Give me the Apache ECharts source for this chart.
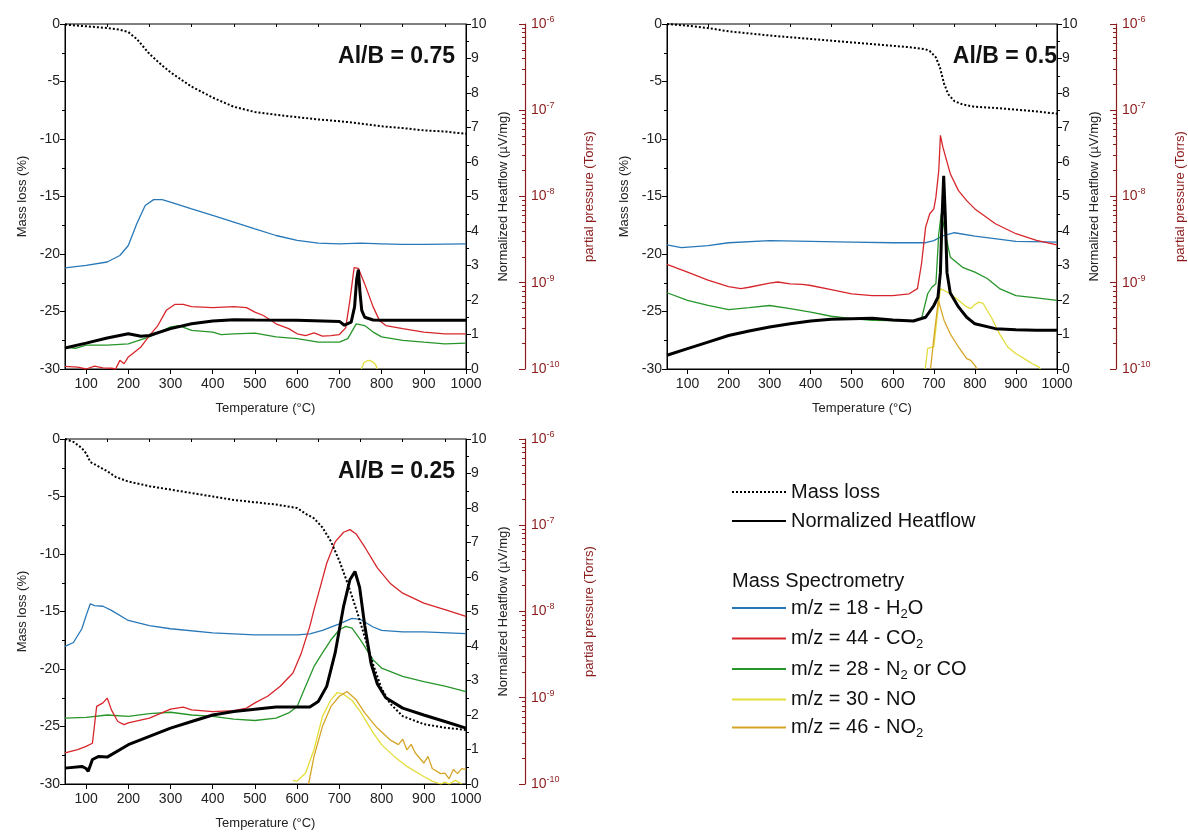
<!DOCTYPE html>
<html><head><meta charset="utf-8">
<script src="https://cdn.jsdelivr.net/npm/echarts@6/dist/echarts.min.js"></script>
<style>html,body{margin:0;padding:0;background:#fff}#c{width:1188px;height:834px}</style>
</head><body><div id="c"></div>
<script>
// ---------- tick labels / categories ----------
const xTickValues = [100,200,300,400,500,600,700,800,900,1000];
const xMinorTickValues = [150,250,350,450,550,650,750,850,950];
const logMinorTickValues = [2e-10,3e-10,4e-10,5e-10,6e-10,7e-10,8e-10,9e-10,2e-9,3e-9,4e-9,5e-9,6e-9,7e-9,8e-9,9e-9,2e-8,3e-8,4e-8,5e-8,6e-8,7e-8,8e-8,9e-8,2e-7,3e-7,4e-7,5e-7,6e-7,7e-7,8e-7,9e-7];
const panelLabels = ['Al/B = 0.75','Al/B = 0.5','Al/B = 0.25'];
const seriesNames = ['Mass loss','Normalized Heatflow','m/z = 18 - H2O','m/z = 44 - CO2','m/z = 28 - N2 or CO','m/z = 30 - NO','m/z = 46 - NO2'];

// ---------- Panel Al/B = 0.75 ----------
const mass75 = [[50,-0.05],[100,-0.2],[150,-0.35],[180,-0.5],[200,-0.7],[220,-1.3],[250,-2.6],[280,-3.6],[300,-4.2],[350,-5.45],[400,-6.4],[450,-7.2],[500,-7.65],[550,-7.9],[600,-8.1],[650,-8.3],[700,-8.45],[750,-8.65],[800,-8.9],[850,-9.05],[900,-9.25],[950,-9.35],[1000,-9.55]];
const heat75 = [[50,0.61],[100,0.75],[150,0.9],[200,1.02],[230,0.95],[250,0.97],[300,1.17],[350,1.31],[400,1.39],[450,1.43],[500,1.42],[600,1.41],[700,1.38],[712,1.27],[728,1.36],[736,1.8],[741,2.6],[745,2.88],[749,2.2],[753,1.7],[760,1.5],[780,1.42],[800,1.41],[900,1.41],[1000,1.41]];
const h2o75 = [[50,1.49e-9],[100,1.59e-9],[150,1.74e-9],[180,2.07e-9],[200,2.70e-9],[220,4.83e-9],[240,7.87e-9],[260,9.2e-9],[280,9.2e-9],[300,8.63e-9],[350,7.18e-9],[400,6.03e-9],[450,5.06e-9],[500,4.21e-9],[550,3.53e-9],[600,3.10e-9],[650,2.88e-9],[700,2.83e-9],[750,2.88e-9],[800,2.83e-9],[850,2.78e-9],[900,2.78e-9],[1000,2.83e-9]];
const co275 = [[50,1.07e-10],[80,1.05e-10],[100,1.0e-10],[120,1.08e-10],[140,1.03e-10],[160,1.02e-10],[170,1.0e-10],[180,1.26e-10],[190,1.15e-10],[200,1.38e-10],[230,1.8e-10],[250,2.44e-10],[270,3.19e-10],[290,4.79e-10],[310,5.6e-10],[330,5.6e-10],[350,5.3e-10],[400,5.15e-10],[450,5.3e-10],[480,5.15e-10],[500,4.57e-10],[520,4.17e-10],[550,3.34e-10],[580,2.94e-10],[600,2.56e-10],[620,2.44e-10],[640,2.63e-10],[660,2.4e-10],[680,2.44e-10],[700,2.51e-10],[715,3.0e-10],[725,6.3e-10],[735,1.5e-9],[745,1.47e-9],[760,9.7e-10],[780,5.25e-10],[795,3.66e-10],[810,3.19e-10],[850,2.94e-10],[900,2.68e-10],[950,2.56e-10],[1000,2.56e-10]];
const n275 = [[50,1.8e-10],[75,1.74e-10],[100,1.89e-10],[150,1.89e-10],[200,1.96e-10],[250,2.36e-10],[300,3.08e-10],[320,3.19e-10],[350,2.81e-10],[400,2.68e-10],[420,2.51e-10],[450,2.56e-10],[500,2.61e-10],[550,2.36e-10],[600,2.25e-10],[650,2.05e-10],[700,2.05e-10],[720,2.25e-10],[740,3.34e-10],[760,3.19e-10],[780,2.68e-10],[800,2.36e-10],[850,2.15e-10],[900,2.05e-10],[950,1.96e-10],[1000,2.0e-10]];
const no75 = [[752,1.0e-10],[758,1.18e-10],[765,1.24e-10],[772,1.26e-10],[780,1.2e-10],[786,1.12e-10],[790,1.0e-10]];
const no275 = [];

// ---------- Panel Al/B = 0.5 ----------
const mass50 = [[50,0],[100,-0.15],[150,-0.35],[200,-0.64],[300,-1.0],[400,-1.3],[500,-1.6],[600,-1.9],[650,-2.05],[680,-2.2],[690,-2.35],[705,-2.9],[715,-3.8],[725,-5.2],[735,-6.1],[750,-6.7],[770,-7.0],[800,-7.2],[850,-7.3],[900,-7.45],[950,-7.6],[1000,-7.8]];
const heat50 = [[50,0.4],[100,0.59],[150,0.78],[200,0.97],[250,1.1],[300,1.22],[350,1.31],[400,1.39],[450,1.44],[500,1.46],[550,1.47],[600,1.42],[650,1.39],[680,1.5],[700,1.84],[710,2.08],[716,2.8],[720,4.4],[724,5.6],[728,4.4],[732,2.8],[740,2.2],[760,1.8],[780,1.5],[800,1.31],[850,1.17],[900,1.14],[950,1.12],[1000,1.12]];
const h2o50 = [[50,2.75e-9],[85,2.56e-9],[150,2.70e-9],[200,2.91e-9],[300,3.08e-9],[400,3.02e-9],[500,2.96e-9],[600,2.91e-9],[680,2.91e-9],[700,3.08e-9],[720,3.47e-9],[750,3.80e-9],[800,3.47e-9],[900,3.02e-9],[1000,2.96e-9]];
const co250 = [[50,1.63e-9],[100,1.33e-9],[150,1.07e-9],[200,9.04e-10],[230,8.55e-10],[250,8.87e-10],[300,9.91e-10],[320,1.02e-9],[350,9.73e-10],[380,9.55e-10],[400,9.29e-10],[450,8.32e-10],[500,7.45e-10],[550,7.11e-10],[600,7.11e-10],[640,7.45e-10],[660,8.55e-10],[670,1.66e-9],[680,4.41e-9],[690,6.31e-9],[700,7.18e-9],[705,9.82e-9],[712,2.0e-8],[716,5.12e-8],[722,3.73e-8],[740,1.84e-8],[760,1.17e-8],[780,8.95e-9],[800,7.18e-9],[850,4.83e-9],[900,3.70e-9],[950,3.10e-9],[1000,2.75e-9]];
const n250 = [[50,7.66e-10],[100,6.25e-10],[150,5.45e-10],[200,4.88e-10],[250,5.15e-10],[300,5.45e-10],[350,5.01e-10],[400,4.57e-10],[450,4.09e-10],[500,3.84e-10],[550,3.66e-10],[600,3.63e-10],[650,3.6e-10],[670,3.84e-10],[685,7.45e-10],[695,8.87e-10],[705,9.73e-10],[712,3.7e-9],[718,6.31e-9],[725,4.41e-9],[740,1.98e-9],[770,1.51e-9],[800,1.33e-9],[830,1.12e-9],[860,8.55e-10],[900,7.11e-10],[950,6.67e-10],[1000,6.25e-10]];
const no50 = [[679,1.0e-10],[685,1.74e-10],[700,1.82e-10],[708,3.98e-10],[716,8.55e-10],[740,7.45e-10],[760,6.25e-10],[780,5.25e-10],[790,5.01e-10],[800,5.6e-10],[810,5.97e-10],[820,5.75e-10],[840,3.98e-10],[860,2.56e-10],[880,1.8e-10],[900,1.5e-10],[920,1.32e-10],[940,1.15e-10],[955,1.06e-10],[960,1.0e-10]];
const no250 = [[692,1.0e-10],[700,2.29e-10],[706,3.98e-10],[711,6.25e-10],[725,3.66e-10],[740,2.56e-10],[760,1.8e-10],[780,1.32e-10],[790,1.26e-10],[800,1.1e-10],[805,1.0e-10]];

// ---------- Panel Al/B = 0.25 ----------
const mass25 = [[50,0],[70,-0.25],[90,-0.8],[100,-1.25],[110,-2.0],[130,-2.4],[150,-2.8],[170,-3.3],[200,-3.7],[250,-4.1],[300,-4.4],[350,-4.7],[400,-5.0],[450,-5.3],[500,-5.5],[550,-5.7],[600,-6.0],[620,-6.5],[640,-6.9],[660,-7.7],[680,-8.9],[700,-10.6],[720,-12.6],[740,-14.8],[760,-17.2],[780,-19.6],[800,-21.7],[820,-23.0],[850,-24.1],[900,-24.8],[950,-25.1],[1000,-25.3]];
const heat25 = [[50,0.46],[90,0.51],[100,0.45],[105,0.37],[115,0.71],[130,0.8],[150,0.78],[200,1.14],[250,1.38],[300,1.62],[350,1.81],[400,2.0],[450,2.1],[500,2.17],[550,2.23],[600,2.23],[630,2.23],[650,2.39],[670,2.83],[690,3.8],[710,5.15],[725,5.92],[737,6.16],[748,5.7],[760,4.6],[775,3.5],[790,2.9],[810,2.5],[850,2.2],[900,2.0],[950,1.81],[1000,1.62]];
const h2o25 = [[50,3.95e-9],[70,4.37e-9],[90,6.31e-9],[100,8.95e-9],[110,1.23e-8],[120,1.17e-8],[140,1.15e-8],[160,1.03e-8],[200,7.87e-9],[250,6.86e-9],[300,6.31e-9],[400,5.65e-9],[500,5.35e-9],[600,5.35e-9],[630,5.5e-9],[660,6.03e-9],[700,7.18e-9],[730,8.32e-9],[750,8.09e-9],[780,6.61e-9],[800,6.03e-9],[850,5.81e-9],[900,5.81e-9],[1000,5.55e-9]];
const co225 = [[50,2.29e-10],[80,2.51e-10],[100,2.73e-10],[115,2.97e-10],[125,7.94e-10],[140,8.71e-10],[150,9.91e-10],[160,7.24e-10],[175,5.3e-10],[190,4.88e-10],[200,5.11e-10],[250,5.81e-10],[300,7.38e-10],[330,7.8e-10],[350,7.24e-10],[400,6.92e-10],[450,7.11e-10],[480,7.59e-10],[500,8.71e-10],[530,1.04e-9],[560,1.36e-9],[590,1.94e-9],[610,3.31e-9],[630,6.73e-9],[640,1.05e-8],[655,1.94e-8],[670,3.63e-8],[690,6.41e-8],[710,8.3e-8],[725,8.9e-8],[740,7.9e-8],[760,5.6e-8],[790,3.2e-8],[820,2.13e-8],[850,1.63e-8],[900,1.25e-8],[950,1.05e-8],[1000,8.79e-9]];
const n225 = [[50,5.81e-10],[100,5.92e-10],[150,6.31e-10],[200,6.08e-10],[250,6.55e-10],[300,6.79e-10],[350,6.31e-10],[400,6.08e-10],[450,5.65e-10],[500,5.45e-10],[550,5.81e-10],[580,6.67e-10],[600,7.94e-10],[620,1.36e-9],[640,2.31e-9],[660,3.31e-9],[680,4.7e-9],[700,6.14e-9],[715,6.73e-9],[730,6.43e-9],[750,4.7e-9],[780,2.75e-9],[800,2.21e-9],[850,1.77e-9],[900,1.54e-9],[950,1.36e-9],[1000,1.18e-9]];
const no25 = [[590,1.1e-10],[600,1.08e-10],[620,1.34e-10],[640,2.51e-10],[660,6.08e-10],[680,9.46e-10],[695,1.15e-9],[710,1.1e-9],[730,9.29e-10],[750,6.86e-10],[780,3.91e-10],[800,2.86e-10],[830,2.09e-10],[860,1.6e-10],[900,1.22e-10],[920,1.08e-10],[940,1.0e-10],[950,1.05e-10],[960,1.0e-10],[975,1.1e-10],[990,1.0e-10]];
const no225 = [[627,1.0e-10],[640,2.09e-10],[660,4.66e-10],[680,7.94e-10],[700,1.04e-9],[718,1.18e-9],[740,9.46e-10],[760,6.67e-10],[790,4.45e-10],[820,3.25e-10],[840,2.86e-10],[850,3.31e-10],[860,2.49e-10],[870,2.88e-10],[880,2.29e-10],[900,1.75e-10],[910,2.09e-10],[920,1.51e-10],[940,1.32e-10],[950,1.34e-10],[960,1.15e-10],[970,1.47e-10],[980,1.32e-10],[990,1.51e-10],[1000,1.47e-10]];

// ---------- styling ----------
const FONT = 'Liberation Sans, Arial, sans-serif';
const DARKRED = '#8b1c1c';
const MS_COLORS = {h2o:'#2878b8', co2:'#d7262b', n2:'#27962a', no:'#e3dd3a', no2:'#d6a526'};

const panels = [
  {grid:{left:65,top:24,width:401,height:345}, label:panelLabels[0], labelRight:733, labelTop:45,
   mass:mass75, heat:heat75, h2o:h2o75, co2:co275, n2:n275, no:no75, no2:no275},
  {grid:{left:667,top:24,width:401,height:345}, label:panelLabels[1], labelRight:131, labelTop:45,
   mass:mass50, heat:heat50, h2o:h2o50, co2:co250, n2:n250, no:no50, no2:no250},
  {grid:{left:65,top:439,width:401,height:345}, label:panelLabels[2], labelRight:733, labelTop:460,
   mass:mass25, heat:heat25, h2o:h2o25, co2:co225, n2:n225, no:no25, no2:no225}
];

const grids=[], xAxes=[], yAxes=[], series=[], titles=[];
const labelStyle = {color:'#222', fontSize:14, fontFamily:FONT};
const nameStyle = {color:'#222', fontSize:13, fontFamily:FONT};
panels.forEach((p,i)=>{
  grids.push(Object.assign({show:true, borderColor:'#000', borderWidth:1, backgroundColor:'transparent'}, p.grid));
  xAxes.push({gridIndex:i, type:'value', min:50, max:1000, name:'Temperature (°C)', nameLocation:'middle', nameGap:33,
    nameTextStyle:nameStyle,
    axisLine:{show:true, onZero:false, lineStyle:{color:'#000', width:1}},
    axisTick:{show:true, customValues:xTickValues, length:5, lineStyle:{color:'#000'}},
    axisLabel:Object.assign({show:true, customValues:xTickValues, margin:8, formatter:v=>String(v)}, labelStyle),
    splitLine:{show:false}});
  xAxes.push({gridIndex:i, type:'value', min:50, max:1000, position:'bottom',
    axisLine:{show:false}, axisLabel:{show:false},
    axisTick:{show:true, customValues:xMinorTickValues, length:3, lineStyle:{color:'#000'}},
    splitLine:{show:false}});
  yAxes.push({gridIndex:i, type:'value', position:'left', min:-30, max:0, interval:5,
    name:'Mass loss (%)', nameLocation:'middle', nameGap:36, nameRotate:90, nameTextStyle:nameStyle,
    axisLine:{show:true, onZero:false, lineStyle:{color:'#000'}},
    axisTick:{show:true, length:5, lineStyle:{color:'#000'}},
    minorTick:{show:true, splitNumber:2, length:3, lineStyle:{color:'#000'}},
    axisLabel:Object.assign({margin:5}, labelStyle), splitLine:{show:false}});
  yAxes.push({gridIndex:i, type:'value', position:'right', min:0, max:10, interval:1,
    name:'Normalized Heatflow (µV/mg)', nameLocation:'middle', nameGap:31, nameRotate:90, nameTextStyle:nameStyle,
    axisLine:{show:true, onZero:false, lineStyle:{color:'#000'}},
    axisTick:{show:true, length:5, lineStyle:{color:'#000'}},
    minorTick:{show:true, splitNumber:2, length:3, lineStyle:{color:'#000'}},
    axisLabel:Object.assign({margin:5}, labelStyle), splitLine:{show:false}});
  yAxes.push({gridIndex:i, type:'log', logBase:10, position:'right', offset:59, min:1e-10, max:1e-6,
    name:'partial pressure (Torrs)', nameLocation:'middle', nameGap:58, nameRotate:90,
    nameTextStyle:{color:DARKRED, fontSize:13, fontFamily:FONT},
    axisLine:{show:true, onZero:false, lineStyle:{color:DARKRED, width:1.2}},
    axisTick:{show:true, inside:true, length:6, lineStyle:{color:DARKRED}},
    minorTick:{show:false},
    axisLabel:{margin:6, color:DARKRED, fontSize:14, fontFamily:FONT,
      formatter:function(v){return '10{sup|'+Math.round(Math.log10(v))+'}';},
      rich:{sup:{fontSize:9, color:DARKRED, fontFamily:FONT, padding:[0,0,9,0]}}},
    splitLine:{show:false}});
  yAxes.push({gridIndex:i, type:'log', logBase:10, position:'right', offset:59, min:1e-10, max:1e-6,
    axisLine:{show:false}, axisLabel:{show:false},
    axisTick:{show:true, inside:true, length:3, customValues:logMinorTickValues, lineStyle:{color:DARKRED}},
    splitLine:{show:false}});
  titles.push({text:p.label, right:p.labelRight, top:p.labelTop, padding:0,
    textStyle:{fontSize:23, fontWeight:'bold', color:'#111', fontFamily:FONT}});
  const xi = 2*i, yi = 4*i;
  const ms = (name, data, color) => ({name, type:'line', xAxisIndex:xi, yAxisIndex:yi+2, data, symbol:'none',
    lineStyle:{color, width:1.3}, itemStyle:{color}, z:2, silent:true});
  series.push(ms(seriesNames[2], p.h2o, MS_COLORS.h2o));
  series.push(ms(seriesNames[4], p.n2, MS_COLORS.n2));
  series.push(ms(seriesNames[3], p.co2, MS_COLORS.co2));
  series.push(ms(seriesNames[5], p.no, MS_COLORS.no));
  series.push(ms(seriesNames[6], p.no2, MS_COLORS.no2));
  series.push({name:seriesNames[0], type:'line', xAxisIndex:xi, yAxisIndex:yi, data:p.mass, symbol:'none',
    lineStyle:{color:'#000', width:2, type:'dotted'}, itemStyle:{color:'#000'}, z:3, silent:true});
  series.push({name:seriesNames[1], type:'line', xAxisIndex:xi, yAxisIndex:yi+1, data:p.heat, symbol:'none',
    lineStyle:{color:'#000', width:3}, itemStyle:{color:'#000'}, z:4, silent:true});
});

const legendRich = {sub:{fontSize:13, color:'#111', fontFamily:FONT, padding:[12,0,0,0]}};
const legendFmt = {
  'm/z = 18 - H2O':'m/z = 18 - H{sub|2}O',
  'm/z = 44 - CO2':'m/z = 44 - CO{sub|2}',
  'm/z = 28 - N2 or CO':'m/z = 28 - N{sub|2} or CO',
  'm/z = 30 - NO':'m/z = 30 - NO',
  'm/z = 46 - NO2':'m/z = 46 - NO{sub|2}'
};
const option = {
  animation:false,
  backgroundColor:'#fff',
  title:titles,
  grid:grids, xAxis:xAxes, yAxis:yAxes, series:series,
  legend:[
    {data:[seriesNames[0], seriesNames[1]], orient:'vertical', left:731, top:482, itemWidth:54, itemHeight:14,
     itemGap:9, selectedMode:false, padding:0, itemStyle:{opacity:0},
     textStyle:{fontSize:20, color:'#111', fontFamily:FONT}},
    {data:seriesNames.slice(2), orient:'vertical', left:731, top:598, itemWidth:54, itemHeight:14,
     itemGap:8, selectedMode:false, padding:0, itemStyle:{opacity:0},
     formatter:function(n){return legendFmt[n]||n;},
     textStyle:{fontSize:20, color:'#111', fontFamily:FONT, rich:legendRich}}
  ],
  graphic:[{type:'text', left:732, top:571, style:{text:'Mass Spectrometry', fontSize:20, fill:'#111', fontFamily:FONT}}]
};
const chart = echarts.init(document.getElementById('c'), null, {renderer:'canvas'});
chart.setOption(option);
</script></body></html>
